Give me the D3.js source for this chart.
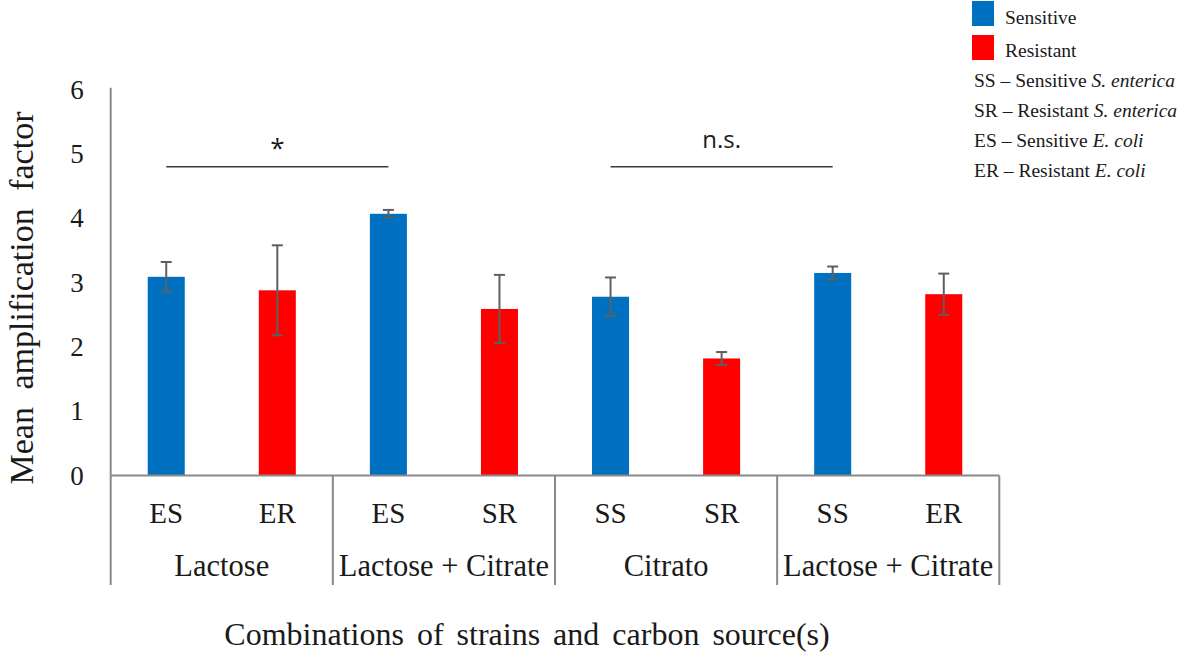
<!DOCTYPE html>
<html>
<head>
<meta charset="utf-8">
<script src="https://cdn.jsdelivr.net/npm/d3@7"></script>
<style>
  html, body { margin: 0; padding: 0; background: #fff; }
  svg { display: block; }
  text { font-family: "Liberation Serif", "Times New Roman", serif; fill: #1a1a1a; }
</style>
</head>
<body>
<svg id="chart" width="1187" height="652"></svg>
<script>
// Strain codes under each bar and the carbon source shared by each pair
const strains = ["ES", "ER", "ES", "SR", "SS", "SR", "SS", "ER"];
const sources = ["Lactose", "Lactose + Citrate", "Citrato", "Lactose + Citrate"];
const phenotype = ["Sensitive", "Resistant", "Sensitive", "Resistant", "Sensitive", "Resistant", "Sensitive", "Resistant"];
// Mean amplification factor and its error (±)
const means = [3.09, 2.88, 4.07, 2.59, 2.78, 1.82, 3.15, 2.82];
const errors = [0.23, 0.70, 0.06, 0.53, 0.30, 0.10, 0.10, 0.32];
const yTicks = [0, 1, 2, 3, 4, 5, 6];
// Significance brackets: from bar index to bar index, with label
const brackets = [
  { from: 0, to: 2, label: "*" },
  { from: 4, to: 6, label: "n.s." }
];
const legendSwatches = ["Sensitive", "Resistant"];
const legendNotes = [
  { code: "SS \u2013 Sensitive ", species: "S. enterica" },
  { code: "SR \u2013 Resistant ", species: "S. enterica" },
  { code: "ES \u2013 Sensitive ", species: "E. coli" },
  { code: "ER \u2013 Resistant ", species: "E. coli" }
];

const colors = { Sensitive: "#0070C0", Resistant: "#FF0000" };
const axisColor = "#8a8a8a";
const serif = "'Liberation Serif', 'Times New Roman', serif";

const svg = d3.select("#chart");
const plotLeft = 110.7, plotRight = 999.3, plotTop = 89.7, base = 475.5, cellBottom = 585;

const x = d3.scaleBand()
  .domain(d3.range(strains.length))
  .range([plotLeft, plotRight])
  .paddingInner(2 / 3)
  .paddingOuter(1 / 3);

const xg = d3.scaleBand()
  .domain(d3.range(sources.length))
  .range([plotLeft, plotRight]);

const y = d3.scaleLinear().domain([0, 6]).range([base, plotTop]);

// Y axis labels
const yAxis = svg.append("g")
  .attr("transform", `translate(${plotLeft},0)`)
  .call(d3.axisLeft(y).tickValues(yTicks).tickFormat(d3.format("d")).tickSize(0).tickPadding(27));
yAxis.attr("font-family", null).attr("font-size", null);
yAxis.select(".domain").remove();
yAxis.selectAll("text")
  .style("font-family", serif)
  .style("font-size", "27px")
  .attr("fill", "#1a1a1a");

// Bars
svg.append("g").selectAll("rect")
  .data(means)
  .join("rect")
  .attr("x", (d, i) => x(i))
  .attr("width", x.bandwidth())
  .attr("y", d => y(d))
  .attr("height", d => y(0) - y(d))
  .attr("fill", (d, i) => colors[phenotype[i]]);

// Error bars
const eb = svg.append("g")
  .attr("stroke", "#5f5f5f")
  .attr("stroke-width", 2);
means.forEach((m, i) => {
  const cx = x(i) + x.bandwidth() / 2;
  const hi = y(m + errors[i]), lo = y(m - errors[i]);
  eb.append("line").attr("x1", cx).attr("x2", cx).attr("y1", hi).attr("y2", lo);
  eb.append("line").attr("x1", cx - 5.5).attr("x2", cx + 5.5).attr("y1", hi).attr("y2", hi);
  eb.append("line").attr("x1", cx - 5.5).attr("x2", cx + 5.5).attr("y1", lo).attr("y2", lo);
});

// Category axis: baseline, vertical axis and group separators
const frame = svg.append("g").attr("stroke", axisColor).attr("stroke-width", 2);
frame.append("line").attr("x1", plotLeft).attr("x2", plotRight).attr("y1", base).attr("y2", base);
frame.append("line").attr("x1", plotLeft).attr("x2", plotLeft).attr("y1", plotTop - 2).attr("y2", cellBottom);
d3.range(1, sources.length + 1).forEach(g => {
  const gx = g < sources.length ? xg(g) : plotRight;
  frame.append("line").attr("x1", gx).attr("x2", gx).attr("y1", base).attr("y2", cellBottom);
});

// Strain labels
const xAxis = svg.append("g")
  .attr("transform", `translate(0,${base})`)
  .call(d3.axisBottom(x).tickSize(0).tickPadding(0).tickFormat(i => strains[i]));
xAxis.attr("font-family", null).attr("font-size", null);
xAxis.select(".domain").remove();
xAxis.selectAll("text")
  .attr("dy", null)
  .attr("y", 47.5)
  .style("font-family", serif)
  .style("font-size", "29px")
  .attr("fill", "#1a1a1a");

// Carbon source labels
svg.append("g").selectAll("text")
  .data(sources)
  .join("text")
  .attr("x", (d, i) => xg(i) + xg.bandwidth() / 2)
  .attr("y", 576)
  .attr("text-anchor", "middle")
  .style("font-size", "30.5px")
  .text(d => d);

// Significance brackets
brackets.forEach(b => {
  const x1 = x(b.from) + x.bandwidth() / 2;
  const x2 = x(b.to) + x.bandwidth() / 2;
  const ly = y(4.8);
  svg.append("line")
    .attr("x1", x1).attr("x2", x2).attr("y1", ly).attr("y2", ly)
    .attr("stroke", "#3a3a3a").attr("stroke-width", 1.5);
  svg.append("text")
    .attr("x", (x1 + x2) / 2)
    .attr("y", b.label === "*" ? ly - 10 : ly - 19)
    .attr("text-anchor", "middle")
    .style("font-family", "'Open Sans', 'Liberation Sans', sans-serif")
    .style("font-size", b.label === "*" ? "26px" : "24px")
    .text(b.label);
});

// Axis titles
svg.append("text")
  .attr("transform", "translate(33,298) rotate(-90)")
  .attr("text-anchor", "middle")
  .style("font-size", "34px")
  .style("word-spacing", "9px")
  .text("Mean amplification factor");

svg.append("text")
  .attr("x", 527)
  .attr("y", 645)
  .attr("text-anchor", "middle")
  .style("font-size", "32px")
  .style("word-spacing", "5px")
  .text("Combinations of strains and carbon source(s)");

// Legend
const lg = svg.append("g");
legendSwatches.forEach((name, i) => {
  lg.append("rect")
    .attr("x", 972).attr("y", 1 + i * 34)
    .attr("width", 22).attr("height", 25)
    .attr("fill", colors[name]);
  lg.append("text")
    .attr("x", 1005).attr("y", 24 + i * 33)
    .style("font-size", "19.5px")
    .text(name);
});
legendNotes.forEach((n, i) => {
  const t = lg.append("text")
    .attr("x", 974).attr("y", 87 + i * 30)
    .style("font-size", "19.5px");
  t.append("tspan").text(n.code);
  t.append("tspan").style("font-style", "italic").text(n.species);
});
</script>
</body>
</html>
